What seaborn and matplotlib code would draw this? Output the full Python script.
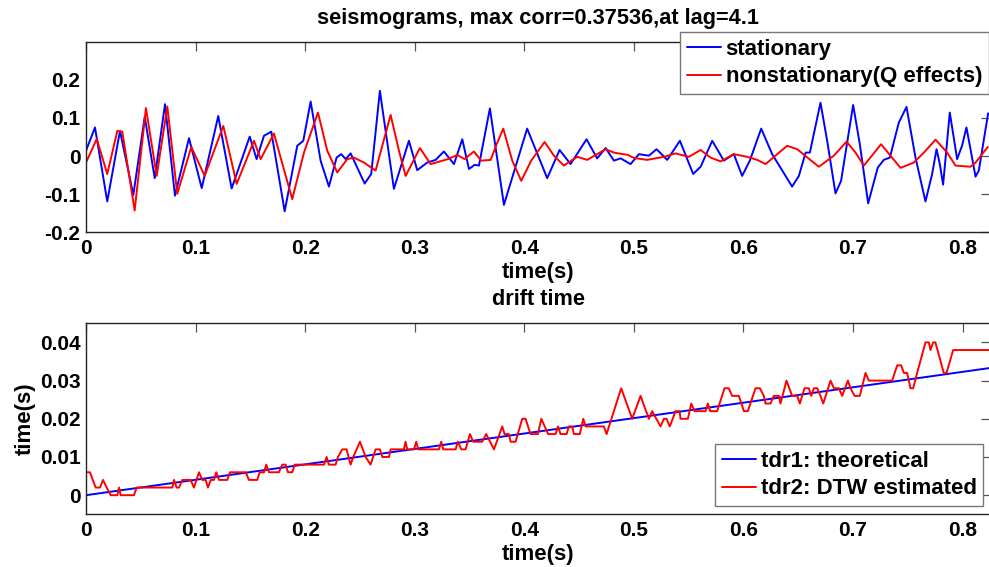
import numpy as np
import pandas as pd
import matplotlib
matplotlib.use("Agg")
import matplotlib.pyplot as plt
import seaborn as sns

# ---------------- data ----------------
stat_t = [0.000, 0.0082, 0.0194, 0.0310, 0.0432, 0.0536, 0.0627, 0.0721, 0.0812, 0.0940,
          0.1056, 0.1207, 0.1329, 0.1494, 0.1557, 0.1624, 0.1691, 0.1813, 0.1928, 0.1983,
          0.2050, 0.2141, 0.2217, 0.2287, 0.2329, 0.2370, 0.2415, 0.2543, 0.2603, 0.2682,
          0.2810, 0.2947, 0.3023, 0.3114, 0.3191, 0.3266, 0.3358, 0.3434, 0.3495, 0.3547,
          0.3586, 0.3686, 0.3814, 0.4026, 0.4209, 0.4322, 0.4422, 0.4568, 0.4665, 0.4742,
          0.4818, 0.4879, 0.4945, 0.4970, 0.5046, 0.5137, 0.5207, 0.5304, 0.5420, 0.5541,
          0.5609, 0.5715, 0.5821, 0.5912, 0.5988, 0.6058, 0.6162, 0.6262, 0.6444, 0.6506,
          0.6567, 0.6606, 0.6703, 0.6764, 0.6840, 0.6891, 0.7001, 0.7062, 0.7138, 0.7226,
          0.7281, 0.7336, 0.7418, 0.7488, 0.7570, 0.7661, 0.7722, 0.7762, 0.7792, 0.7822,
          0.7883, 0.7950, 0.7995, 0.8035, 0.8072, 0.8118, 0.8148, 0.8233]
stat_v = [0.014, 0.075, -0.119, 0.066, -0.102, 0.103, -0.058, 0.136, -0.104, 0.047,
          -0.084, 0.105, -0.085, 0.051, -0.008, 0.053, 0.064, -0.145, 0.027, 0.040,
          0.143, -0.012, -0.080, -0.004, 0.005, -0.008, 0.007, -0.072, -0.047, 0.171,
          -0.086, 0.040, -0.037, -0.017, -0.010, 0.012, -0.021, 0.044, -0.034, -0.023,
          -0.025, 0.125, -0.128, 0.072, -0.058, 0.016, -0.021, 0.044, -0.006, 0.021,
          -0.012, -0.006, -0.017, -0.021, 0.005, 0.001, 0.018, -0.010, 0.040, -0.047,
          -0.028, 0.040, -0.012, 0.005, -0.052, -0.012, 0.072, 0.005, -0.080, -0.052,
          0.009, 0.009, 0.140, 0.040, -0.098, -0.065, 0.134, 0.031, -0.124, -0.030,
          -0.010, -0.004, 0.088, 0.129, -0.004, -0.119, -0.047, 0.018, -0.021, -0.075,
          0.114, -0.008, 0.027, 0.075, 0.018, -0.054, -0.038, 0.112]

nonstat_t = [0.000, 0.0098, 0.0194, 0.0286, 0.0331, 0.0444, 0.0547, 0.0645, 0.0742, 0.0833,
             0.0961, 0.1083, 0.1253, 0.1375, 0.1533, 0.1594, 0.1715, 0.1882, 0.1989, 0.2117,
             0.2202, 0.2293, 0.2384, 0.2445, 0.2536, 0.2643, 0.2780, 0.2856, 0.2917, 0.3047,
             0.3145, 0.3303, 0.3388, 0.3455, 0.3540, 0.3607, 0.3693, 0.3747, 0.3808, 0.3890,
             0.3972, 0.4063, 0.4185, 0.4270, 0.4361, 0.4483, 0.4574, 0.4742, 0.4818, 0.4945,
             0.5000, 0.5121, 0.5274, 0.5380, 0.5502, 0.5609, 0.5700, 0.5791, 0.5912, 0.6034,
             0.6125, 0.6202, 0.6308, 0.6399, 0.6490, 0.6588, 0.6688, 0.6825, 0.6941, 0.7023,
             0.7099, 0.7256, 0.7342, 0.7433, 0.7555, 0.7646, 0.7753, 0.7859, 0.7935, 0.8072,
             0.8118, 0.8230]
nonstat_v = [-0.017, 0.045, -0.047, 0.066, 0.064, -0.143, 0.126, -0.052, 0.130, -0.099,
             0.024, -0.052, 0.079, -0.073, 0.040, -0.008, 0.059, -0.113, 0.009, 0.114,
             0.014, -0.043, -0.008, -0.004, -0.017, -0.038, 0.108, 0.014, -0.052, 0.021,
             -0.021, -0.008, 0.003, -0.008, 0.012, -0.012, -0.010, 0.031, 0.072, -0.012,
             -0.065, -0.012, 0.037, 0.001, -0.025, -0.002, -0.010, 0.018, 0.009, 0.003,
             -0.005, -0.010, -0.002, 0.007, -0.002, 0.016, -0.004, -0.014, 0.005, -0.002,
             -0.010, -0.021, 0.005, 0.027, 0.018, -0.005, -0.028, 0.001, 0.038, 0.009,
             -0.025, 0.031, 0.001, -0.031, -0.017, 0.009, 0.043, 0.009, -0.025, -0.028,
             -0.017, 0.024]

tdr1_t = [0.000, 0.825]
tdr1_v = [0.000, 0.0333]

tdr2_t = [0.000, 0.0036, 0.0088, 0.0128, 0.0155, 0.0189, 0.0225, 0.0286, 0.0301, 0.0316,
          0.0438, 0.0462, 0.0788, 0.0803, 0.0827, 0.0849, 0.0879, 0.0955, 0.0985, 0.1031,
          0.1061, 0.1092, 0.1113, 0.1138, 0.1168, 0.1189, 0.1214, 0.1289, 0.1314, 0.1457,
          0.1487, 0.1563, 0.1585, 0.1624, 0.1645, 0.1670, 0.1761, 0.1791, 0.1822, 0.1843,
          0.1882, 0.1904, 0.2172, 0.2196, 0.2217, 0.2278, 0.2299, 0.2339, 0.2378, 0.2415,
          0.2439, 0.2500, 0.2552, 0.2597, 0.2643, 0.2682, 0.2704, 0.2765, 0.2780, 0.2901,
          0.2916, 0.2932, 0.2993, 0.3014, 0.3032, 0.3221, 0.3242, 0.3260, 0.3373, 0.3394,
          0.3425, 0.3464, 0.3504, 0.3534, 0.3616, 0.3652, 0.3723, 0.3799, 0.3820, 0.3860,
          0.3875, 0.3920, 0.3981, 0.4011, 0.4057, 0.4124, 0.4155, 0.4218, 0.4285, 0.4307,
          0.4331, 0.4386, 0.4407, 0.4437, 0.4453, 0.4507, 0.4538, 0.4559, 0.4726, 0.4751,
          0.4884, 0.4985, 0.5061, 0.5137, 0.5167, 0.5243, 0.5274, 0.5298, 0.5328, 0.5380,
          0.5417, 0.5426, 0.5493, 0.5523, 0.5554, 0.5654, 0.5675, 0.5696, 0.5760, 0.5827,
          0.5866, 0.5897, 0.5958, 0.6004, 0.6040, 0.6110, 0.6150, 0.6186, 0.6201, 0.6247,
          0.6277, 0.6323, 0.6338, 0.6393, 0.6444, 0.6490, 0.6515, 0.6557, 0.6597, 0.6618,
          0.6643, 0.6673, 0.6703, 0.6728, 0.6795, 0.6825, 0.6871, 0.6901, 0.6953, 0.6977,
          0.7014, 0.7062, 0.7114, 0.7144, 0.7357, 0.7403, 0.7439, 0.7464, 0.7494, 0.7524,
          0.7549, 0.7585, 0.7661, 0.7692, 0.7707, 0.7731, 0.7752, 0.7828, 0.7853, 0.7914,
          0.8250]
tdr2_v = [0.006, 0.006, 0.002, 0.002, 0.004, 0.002, 0.000, 0.000, 0.002, 0.000,
          0.000, 0.002, 0.002, 0.004, 0.002, 0.002, 0.004, 0.004, 0.002, 0.006,
          0.004, 0.004, 0.002, 0.004, 0.004, 0.006, 0.004, 0.004, 0.006, 0.006,
          0.004, 0.004, 0.006, 0.006, 0.008, 0.006, 0.006, 0.008, 0.008, 0.006,
          0.006, 0.008, 0.008, 0.010, 0.008, 0.008, 0.010, 0.012, 0.012, 0.008,
          0.010, 0.014, 0.010, 0.008, 0.012, 0.012, 0.010, 0.010, 0.012, 0.012,
          0.014, 0.012, 0.012, 0.014, 0.012, 0.012, 0.014, 0.012, 0.012, 0.014,
          0.012, 0.012, 0.016, 0.014, 0.014, 0.016, 0.012, 0.018, 0.016, 0.016,
          0.014, 0.014, 0.020, 0.020, 0.016, 0.016, 0.020, 0.016, 0.016, 0.018,
          0.016, 0.016, 0.018, 0.018, 0.016, 0.016, 0.020, 0.018, 0.018, 0.016,
          0.028, 0.020, 0.026, 0.020, 0.022, 0.018, 0.020, 0.020, 0.018, 0.022,
          0.022, 0.020, 0.020, 0.024, 0.022, 0.022, 0.024, 0.022, 0.022, 0.028,
          0.028, 0.026, 0.026, 0.022, 0.022, 0.028, 0.028, 0.026, 0.024, 0.024,
          0.026, 0.026, 0.024, 0.030, 0.026, 0.026, 0.024, 0.028, 0.028, 0.026,
          0.028, 0.028, 0.026, 0.024, 0.030, 0.028, 0.028, 0.026, 0.030, 0.028,
          0.026, 0.026, 0.032, 0.030, 0.030, 0.034, 0.034, 0.032, 0.032, 0.028,
          0.028, 0.032, 0.040, 0.040, 0.038, 0.040, 0.040, 0.032, 0.032, 0.038,
          0.038]

title_top = "seismograms, max corr=0.37536,at lag=4.1"
title_bottom = "drift time"
xlabel = "time(s)"
ylabel_bottom = "time(s)"
legend_top = ["stationary", "nonstationary(Q effects)"]
legend_bottom = ["tdr1: theoretical", "tdr2: DTW estimated"]
xticks = [0, 0.1, 0.2, 0.3, 0.4, 0.5, 0.6, 0.7, 0.8]
yticks_top = [-0.2, -0.1, 0, 0.1, 0.2]
yticks_bottom = [0, 0.01, 0.02, 0.03, 0.04]

# ---------------- style ----------------
sns.set_theme(style="white")
plt.rcParams["font.family"] = ["Liberation Sans", "DejaVu Sans"]
plt.rcParams["font.weight"] = "bold"
plt.rcParams["axes.titleweight"] = "bold"
plt.rcParams["axes.labelweight"] = "bold"
plt.rcParams["text.color"] = "black"
plt.rcParams["axes.labelcolor"] = "black"
plt.rcParams["xtick.color"] = "black"
plt.rcParams["ytick.color"] = "black"

W, H = 989, 567
fig = plt.figure(figsize=(W / 100, H / 100), dpi=100)
fig.patch.set_facecolor("white")

def fx(px):
    return px / W

def fy(py):
    return 1 - py / H

ax1 = fig.add_axes([fx(86), fy(232.3), fx(990) - fx(86), (232.3 - 41.7) / H])
ax2 = fig.add_axes([fx(86), fy(514.3), fx(990) - fx(86), (514.3 - 323.3) / H])

df_top = pd.concat([
    pd.DataFrame({"t": stat_t, "v": stat_v, "s": legend_top[0]}),
    pd.DataFrame({"t": nonstat_t, "v": nonstat_v, "s": legend_top[1]}),
])
df_bot = pd.concat([
    pd.DataFrame({"t": tdr1_t, "v": tdr1_v, "s": legend_bottom[0]}),
    pd.DataFrame({"t": tdr2_t, "v": tdr2_v, "s": legend_bottom[1]}),
])

pal_top = {legend_top[0]: "#0000ff", legend_top[1]: "#ff0000"}
pal_bot = {legend_bottom[0]: "#0000ff", legend_bottom[1]: "#ff0000"}

sns.lineplot(data=df_top, x="t", y="v", hue="s", palette=pal_top, estimator=None,
             sort=False, linewidth=1.4, ax=ax1)
sns.lineplot(data=df_bot, x="t", y="v", hue="s", palette=pal_bot, estimator=None,
             sort=False, linewidth=1.4, ax=ax2)
for ax in (ax1, ax2):
    for ln in ax.get_lines():
        ln.set_solid_joinstyle("round")

tick_fs = 15
lab_fs = 16
for ax, yt, ylim in [(ax1, yticks_top, (-0.2, 0.3)), (ax2, yticks_bottom, (-0.005, 0.045))]:
    ax.set_xlim(0, 0.825)
    ax.set_ylim(*ylim)
    ax.set_xticks(xticks)
    ax.set_xticklabels([f"{v:g}" for v in xticks])
    ax.set_yticks(yt)
    ax.set_yticklabels([f"{v:g}" for v in yt])
    ax.tick_params(direction="in", length=6.5, width=0.9, color="#555555",
                   top=True, right=True, labelsize=tick_fs, pad=4, labelcolor="black")
    ax.tick_params(axis="x", pad=5)
    for lab in ax.get_xticklabels() + ax.get_yticklabels():
        lab.set_fontweight("bold")
    for sp in ax.spines.values():
        sp.set_color("#222222")
        sp.set_linewidth(1.0)
    ax.set_facecolor("white")
    ax.set_xlabel(xlabel, fontsize=lab_fs, fontweight="bold", labelpad=2.5, color="black")
    ax.set_ylabel("")
    ax.grid(False)

ax2.set_ylabel(ylabel_bottom, fontsize=lab_fs, fontweight="bold", labelpad=3, color="black")
ax1.set_title(title_top, fontsize=15.7, fontweight="bold", pad=13, color="black")
ax2.set_title(title_bottom, fontsize=15.7, fontweight="bold", pad=13, color="black")

def make_legend(ax, anchor):
    h, l = ax.get_legend_handles_labels()
    leg = ax.legend(h, l, loc="upper left", bbox_to_anchor=anchor,
                    bbox_transform=fig.transFigure, frameon=True, fancybox=False,
                    shadow=False, prop={"weight": "bold", "size": 16},
                    handlelength=1.53, handletextpad=0.22, borderpad=0.3,
                    labelspacing=0.3, borderaxespad=0)
    fr = leg.get_frame()
    fr.set_edgecolor("#777777")
    fr.set_linewidth(1.0)
    fr.set_facecolor("white")
    fr.set_alpha(1)
    for ln in leg.get_lines():
        ln.set_linewidth(1.4)
    for t in leg.get_texts():
        t.set_color("black")
    return leg

make_legend(ax1, (fx(680), fy(32)))
make_legend(ax2, (fx(715), fy(444)))

fig.savefig("out.png", dpi=100, facecolor="white")
